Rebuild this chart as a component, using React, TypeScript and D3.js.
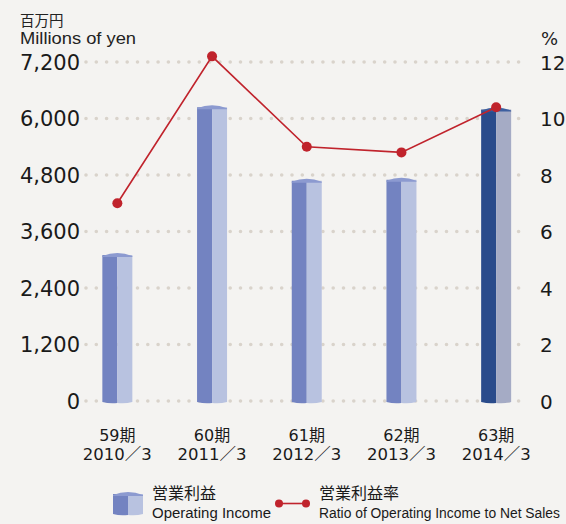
import React from 'react'
import * as d3 from 'd3'

const periods = ['59期', '60期', '61期', '62期', '63期']
const years = ['2010／3', '2011／3', '2012／3', '2013／3', '2014／3']
const operatingIncome = [3100, 6240, 4680, 4700, 6190]
const incomeRatio = [7.0, 12.2, 9.0, 8.8, 10.4]
const leftTicks = [0, 1200, 2400, 3600, 4800, 6000, 7200]
const rightTicks = [0, 2, 4, 6, 8, 10, 12]

const W = 566
const H = 524
const top = 62
const bottom = 401
const jp = '"Noto Sans CJK JP", sans-serif'
const latin = '"Liberation Sans", Arial, sans-serif'
const num = '"DejaVu Sans", "Noto Sans CJK JP", sans-serif'

const App = () => {
  const x = d3.scaleBand().domain(periods).range([70, 543.5]).padding(0)
  const yL = d3.scaleLinear().domain([0, 7200]).range([bottom, top])
  const yR = d3.scaleLinear().domain([0, 12]).range([bottom, top])
  const cx = (p: string) => (x(p) as number) + x.bandwidth() / 2
  const half = 15

  const line = d3.line<number>()
    .x((d, i) => cx(periods[i]))
    .y(d => yR(d))

  return (
    <svg width={W} height={H} style={{ position: 'absolute', left: 0, top: 0, background: '#f4f3f1' }}>
      <rect width={W} height={H} fill="#f4f3f1" />

      {/* header labels */}
      <text x={20} y={26} fontFamily={jp} fontSize={14.5} fill="#222">百万円</text>
      <text x={20} y={44} fontFamily={latin} fontSize={16} fill="#222" textLength={116} lengthAdjust="spacingAndGlyphs">Millions of yen</text>
      <text x={541} y={45} fontFamily={num} fontSize={18} fill="#222">%</text>

      {/* dotted gridlines */}
      {leftTicks.map(t => (
        <line key={t} x1={86} x2={527} y1={yL(t)} y2={yL(t)}
          stroke="#d9d3cb" strokeWidth={3.6} strokeLinecap="round" strokeDasharray="0 10.3" />
      ))}

      {/* left axis */}
      {leftTicks.map(t => (
        <text key={t} x={80} y={yL(t) + 7.5} textAnchor="end" fontFamily={num} fontSize={21} fill="#1a1a1a">
          {d3.format(',')(t)}
        </text>
      ))}

      {/* right axis */}
      {rightTicks.map(t => (
        <text key={t} x={540} y={yR(t) + 7.5} fontFamily={num} fontSize={20} fill="#1a1a1a">{t}</text>
      ))}

      {/* bars */}
      {operatingIncome.map((v, i) => {
        const c = cx(periods[i])
        const yt = yL(v)
        const last = i === periods.length - 1
        const dark = last ? '#2a4b8b' : '#7383c1'
        const light = last ? '#a5abc5' : '#b8c2e0'
        const cap = last ? '#3d5f9f' : '#8c9ad0'
        return (
          <g key={i}>
            <path d={`M${c - half},${yt} L${c},${yt} L${c},${bottom + 2} Q${c - half / 2},${bottom + 3} ${c - half},${bottom + 1} Z`} fill={dark} />
            <path d={`M${c},${yt} L${c + half},${yt} L${c + half},${bottom + 1} Q${c + half / 2},${bottom + 3} ${c},${bottom + 2} Z`} fill={light} />
            <path d={`M${c - half},${yt + 1} Q${c},${yt - 5} ${c + half},${yt + 1} L${c + half},${yt + 2} L${c - half},${yt + 2} Z`} fill={cap} />
          </g>
        )
      })}

      {/* ratio line */}
      <path d={line(incomeRatio) ?? ''} fill="none" stroke="#c0232c" strokeWidth={1.6} />
      {incomeRatio.map((v, i) => (
        <circle key={i} cx={cx(periods[i])} cy={yR(v)} r={5} fill="#c0232c" />
      ))}

      {/* category labels */}
      {periods.map((p, i) => (
        <g key={p}>
          <text x={cx(p)} y={441} textAnchor="middle" fontFamily={num} fontSize={16} fill="#1a1a1a">{p}</text>
          <text x={cx(p)} y={460} textAnchor="middle" fontFamily={num} fontSize={16.5} fill="#1a1a1a">{years[i]}</text>
        </g>
      ))}

      {/* legend */}
      <g>
        <path d="M113,494 L128,494 L128,515 Q120,516 113,514 Z" fill="#7383c1" />
        <path d="M128,494 L143,494 L143,514 Q136,516 128,515 Z" fill="#b8c2e0" />
        <path d="M113,495 Q128,489 143,495 L143,496 L113,496 Z" fill="#8c9ad0" />
        <text x={152} y={499} fontFamily={jp} fontSize={16} fill="#1a1a1a">営業利益</text>
        <text transform="translate(152,517.5) scale(0.9,1)" fontFamily={latin} fontSize={14.5} fill="#1a1a1a"
          textLength={119 / 0.9} lengthAdjust="spacingAndGlyphs">Operating Income</text>

        <line x1={279} x2={306} y1={503.5} y2={503.5} stroke="#c0232c" strokeWidth={1.6} />
        <circle cx={279} cy={503.5} r={4} fill="#c0232c" />
        <circle cx={306} cy={503.5} r={4} fill="#c0232c" />
        <text x={319} y={499} fontFamily={jp} fontSize={16} fill="#1a1a1a">営業利益率</text>
        <text transform="translate(319,517.5) scale(0.9,1)" fontFamily={latin} fontSize={14.5} fill="#1a1a1a"
          textLength={241 / 0.9} lengthAdjust="spacingAndGlyphs">Ratio of Operating Income to Net Sales</text>
      </g>
    </svg>
  )
}

export default App
